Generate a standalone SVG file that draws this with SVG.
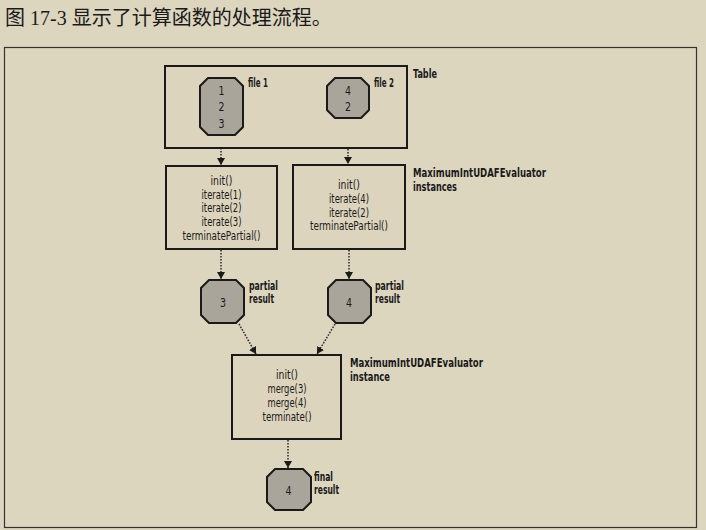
<svg xmlns="http://www.w3.org/2000/svg" width="706" height="530" viewBox="0 0 706 530">
<style>
.t{font-family:"DejaVu Sans Condensed","Liberation Sans",sans-serif;font-size:12.5px;fill:#1a1a1a;text-anchor:middle}
.l{font-family:"DejaVu Sans Condensed","Liberation Sans",sans-serif;font-size:12px;font-weight:bold;fill:#1a1a1a}
.box{fill:#dcd4bd;stroke:#1a1a1a;stroke-width:2}
.oct{fill:#a9a59b;stroke:#1a1a1a;stroke-width:2}
.c{stroke:#333;stroke-width:1.6;stroke-dasharray:1.6 1.4;fill:none}
</style>
<defs>
<marker id="ah" markerWidth="8" markerHeight="8" refX="7" refY="4" orient="auto" markerUnits="userSpaceOnUse">
<path d="M0,0 L7,4 L0,8 Z" fill="#1a1a1a"/>
</marker>
</defs>
<rect width="706" height="530" fill="#ddd6bf"/>
<text x="5" y="25" style="font-family:'Liberation Serif','Noto Sans CJK SC',serif;font-size:20px;fill:#1a1a1a">图 17-3 显示了计算函数的处理流程。</text>
<rect x="4.5" y="47.5" width="692" height="480" fill="none" stroke="#333" stroke-width="1.2"/>

<g id="connectors">
<path class="c" d="M221,136 L221,165" marker-end="url(#ah)"/>
<path class="c" d="M348,119 L348,164" marker-end="url(#ah)"/>
<path class="c" d="M221,250 L221,279" marker-end="url(#ah)"/>
<path class="c" d="M349,250 L349,279" marker-end="url(#ah)"/>
<path class="c" d="M239,324 L256,354" marker-end="url(#ah)"/>
<path class="c" d="M335,324 L317,354" marker-end="url(#ah)"/>
<path class="c" d="M288,440 L288,468" marker-end="url(#ah)"/>
</g>

<g id="table">
<rect class="box" x="165" y="66" width="242" height="82"/>
<text class="l" x="413" y="78" textLength="24" lengthAdjust="spacingAndGlyphs">Table</text>
</g>

<g id="file1">
<path class="oct" d="M208,78 L235,78 L243,86 L243,127 L235,135 L208,135 L200,127 L200,86 Z"/>
<text class="t" x="221.5" y="95" textLength="6" lengthAdjust="spacingAndGlyphs">1</text>
<text class="t" x="221.5" y="111" textLength="6" lengthAdjust="spacingAndGlyphs">2</text>
<text class="t" x="221.5" y="128" textLength="6" lengthAdjust="spacingAndGlyphs">3</text>
<text class="l" x="248" y="87" textLength="20" lengthAdjust="spacingAndGlyphs">file 1</text>
</g>

<g id="file2">
<path class="oct" d="M335,78 L361,78 L369,86 L369,110 L361,118 L335,118 L327,110 L327,86 Z"/>
<text class="t" x="348" y="95" textLength="6" lengthAdjust="spacingAndGlyphs">4</text>
<text class="t" x="348" y="111" textLength="6" lengthAdjust="spacingAndGlyphs">2</text>
<text class="l" x="374" y="87" textLength="20" lengthAdjust="spacingAndGlyphs">file 2</text>
</g>

<g id="eval1">
<rect class="box" x="166" y="166" width="111" height="83"/>
<text class="t" x="221.5" y="185" textLength="22" lengthAdjust="spacingAndGlyphs">init()</text>
<text class="t" x="221.5" y="198.5" textLength="40" lengthAdjust="spacingAndGlyphs">iterate(1)</text>
<text class="t" x="221.5" y="212" textLength="40" lengthAdjust="spacingAndGlyphs">iterate(2)</text>
<text class="t" x="221.5" y="226" textLength="40" lengthAdjust="spacingAndGlyphs">iterate(3)</text>
<text class="t" x="221.5" y="240" textLength="78" lengthAdjust="spacingAndGlyphs">terminatePartial()</text>
</g>

<g id="eval2">
<rect class="box" x="293" y="165" width="112" height="84"/>
<text class="t" x="349" y="189" textLength="22" lengthAdjust="spacingAndGlyphs">init()</text>
<text class="t" x="349" y="203" textLength="40" lengthAdjust="spacingAndGlyphs">iterate(4)</text>
<text class="t" x="349" y="216.5" textLength="40" lengthAdjust="spacingAndGlyphs">iterate(2)</text>
<text class="t" x="349" y="230" textLength="78" lengthAdjust="spacingAndGlyphs">terminatePartial()</text>
<text class="l" x="413" y="177" textLength="133" lengthAdjust="spacingAndGlyphs">MaximumIntUDAFEvaluator</text>
<text class="l" x="413" y="191" textLength="44" lengthAdjust="spacingAndGlyphs">instances</text>
</g>

<g id="partial1">
<path class="oct" d="M209,280 L236,280 L244,288 L244,315 L236,323 L209,323 L201,315 L201,288 Z"/>
<text class="t" x="223" y="307" textLength="6" lengthAdjust="spacingAndGlyphs">3</text>
<text class="l" x="249" y="290" textLength="29" lengthAdjust="spacingAndGlyphs">partial</text>
<text class="l" x="249" y="303" textLength="25" lengthAdjust="spacingAndGlyphs">result</text>
</g>

<g id="partial2">
<path class="oct" d="M336,280 L363,280 L371,288 L371,315 L363,323 L336,323 L328,315 L328,288 Z"/>
<text class="t" x="349" y="307" textLength="6" lengthAdjust="spacingAndGlyphs">4</text>
<text class="l" x="375" y="290" textLength="29" lengthAdjust="spacingAndGlyphs">partial</text>
<text class="l" x="375" y="303" textLength="25" lengthAdjust="spacingAndGlyphs">result</text>
</g>

<g id="merge">
<rect class="box" x="232" y="355" width="109" height="84"/>
<text class="t" x="287" y="379" textLength="22" lengthAdjust="spacingAndGlyphs">init()</text>
<text class="t" x="287" y="393" textLength="39" lengthAdjust="spacingAndGlyphs">merge(3)</text>
<text class="t" x="287" y="407" textLength="39" lengthAdjust="spacingAndGlyphs">merge(4)</text>
<text class="t" x="287" y="421" textLength="49" lengthAdjust="spacingAndGlyphs">terminate()</text>
<text class="l" x="350" y="367" textLength="133" lengthAdjust="spacingAndGlyphs">MaximumIntUDAFEvaluator</text>
<text class="l" x="350" y="381" textLength="40" lengthAdjust="spacingAndGlyphs">instance</text>
</g>

<g id="final">
<path class="oct" d="M275,469 L303,469 L311,477 L311,502 L303,510 L275,510 L267,502 L267,477 Z"/>
<text class="t" x="288.5" y="495" textLength="6" lengthAdjust="spacingAndGlyphs">4</text>
<text class="l" x="314" y="481" textLength="19" lengthAdjust="spacingAndGlyphs">final</text>
<text class="l" x="314" y="494" textLength="25" lengthAdjust="spacingAndGlyphs">result</text>
</g>
</svg>
